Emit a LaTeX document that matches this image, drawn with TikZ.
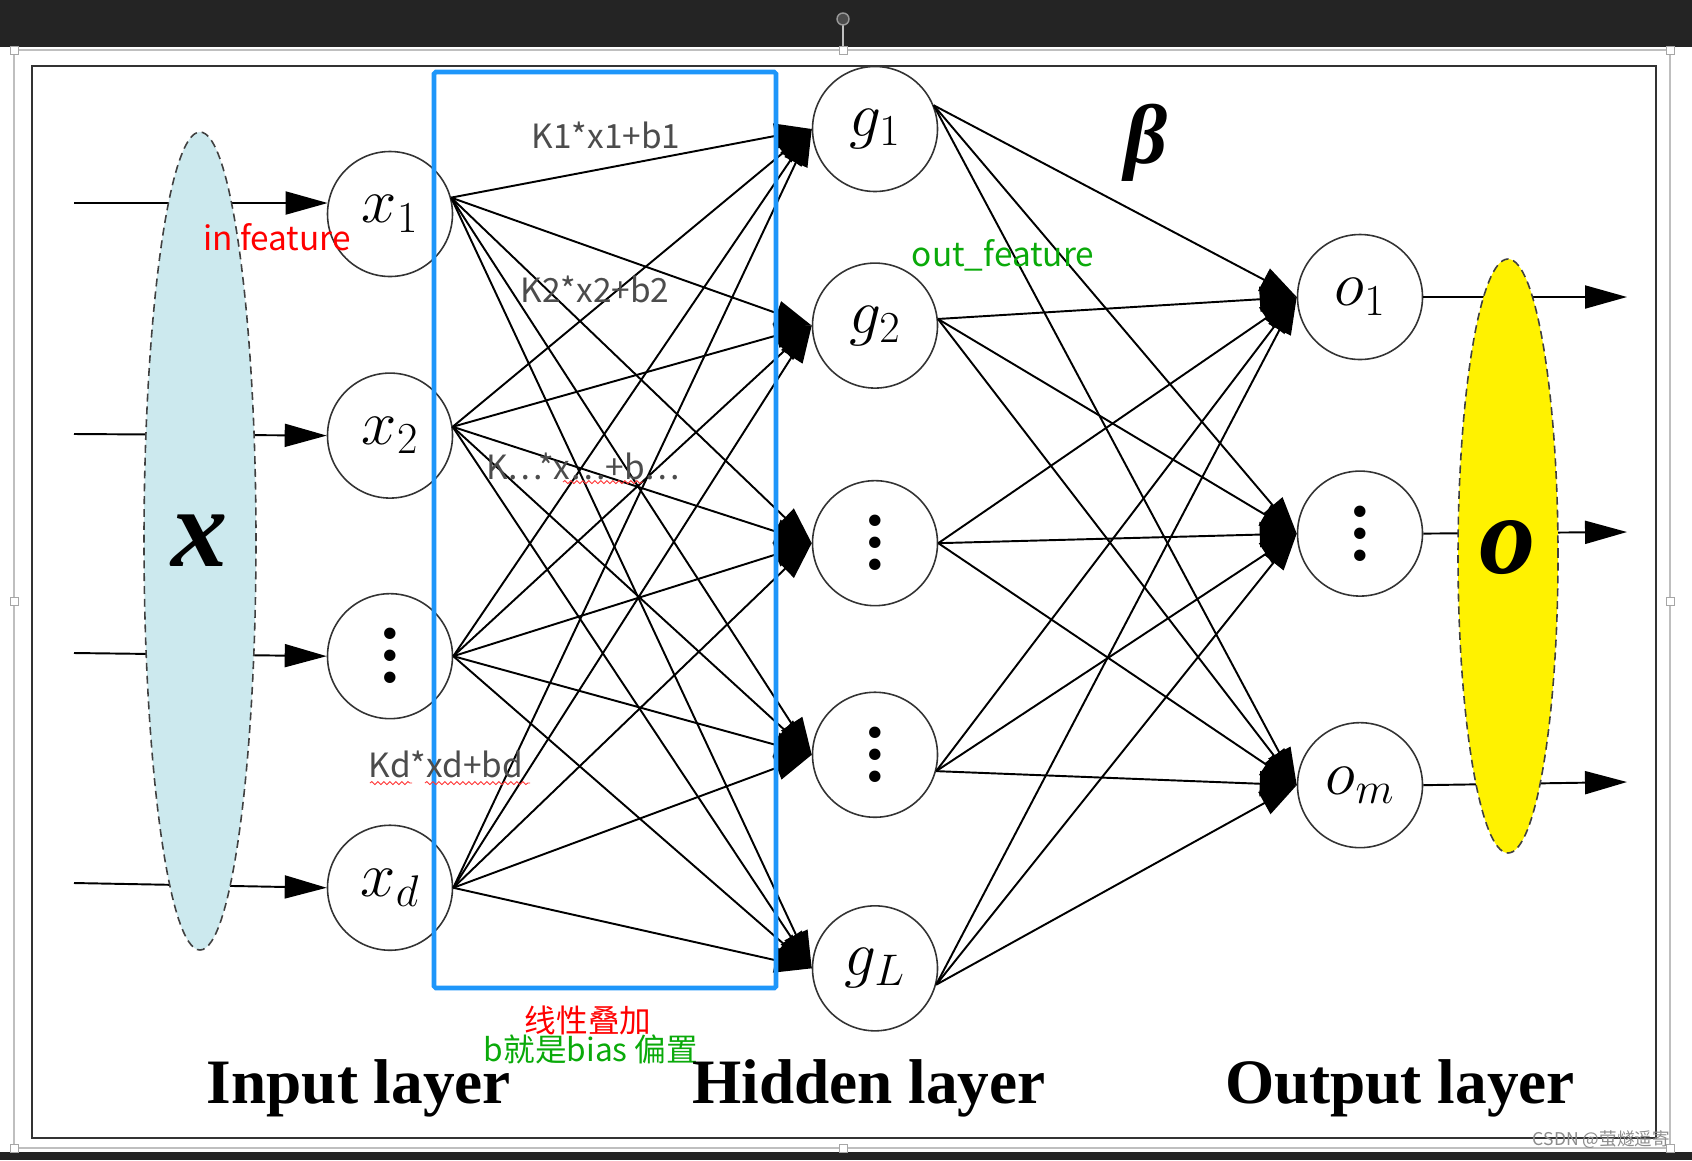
\RequirePackage{fix-cm}
\documentclass[tikz,border=0pt]{standalone}
\usepackage{fontspec}
\usepackage{amsmath}
\usepackage{tikz}
\usetikzlibrary{shapes.geometric,positioning,arrows.meta,decorations.pathmorphing}
\newfontfamily\cjk{Noto Sans CJK SC}
\newfontfamily\timesf{Liberation Serif}
\definecolor{boxblue}{RGB}{30,150,250}
\definecolor{inblue}{RGB}{204,233,238}
\definecolor{annred}{RGB}{255,0,0}
\definecolor{anngreen}{RGB}{10,170,10}
\definecolor{barbg}{RGB}{36,36,36}
\newcommand{\dotcol}{\vbox{\timesf\bfseries\fontsize{40}{40}\selectfont\baselineskip=0.44cm\lineskiplimit=-1cm\hbox{.}\hbox{.}\hbox{.}}}

\begin{document}
\begin{tikzpicture}[x=1cm, y=1cm,
  neuron/.style={circle, draw=black!80, line width=0.9pt, fill=white, minimum size=2.5cm, inner sep=0pt, font=\fontsize{36}{36}\selectfont},
  layerset/.style={ellipse, draw=black!75, dash pattern=on 4.5pt off 2.8pt, line width=0.9pt, inner sep=0pt, font=\timesf\bfseries\itshape\fontsize{64}{64}\selectfont},
  conn/.style={line width=1.1pt, -{Triangle[length=0.74cm, width=0.5cm]}},
  ioarrow/.style={line width=1.1pt, -{Triangle[length=0.84cm, width=0.46cm]}},
  formula/.style={font=\cjk\fontsize{19}{19}\selectfont, text=black!70},
  note/.style={font=\cjk\fontsize{19}{19}\selectfont},
  layertitle/.style={font=\timesf\bfseries\fontsize{36}{36}\selectfont, anchor=base},
  spell/.style={draw=red!80, line width=0.5pt, decorate, decoration={snake, amplitude=0.03cm, segment length=0.12cm}}]

\useasboundingbox (0,0) rectangle (33.84,-23.2);

% SCREEN
\fill[white] (0,0) rectangle (33.84,-23.2);
\fill[barbg] (0,0) rectangle (33.84,-0.94);
\fill[barbg] (0,-23.04) rectangle (33.84,-23.2);
\draw[black!25, line width=0.8pt] (0.28,-1.0) rectangle (33.4,-22.96);
\draw[black!25, line width=0.6pt] (16.86,-0.38) -- (16.86,-1.0);
\draw[black!40, fill=black!70, line width=0.8pt] (16.86,-0.38) circle (0.12);
\filldraw[draw=black!35, fill=white, line width=0.5pt]
  (0.2,-0.92) rectangle ++(0.16,-0.16) (16.78,-0.92) rectangle ++(0.16,-0.16) (33.32,-0.92) rectangle ++(0.16,-0.16)
  (0.2,-11.94) rectangle ++(0.16,-0.16) (33.32,-11.94) rectangle ++(0.16,-0.16)
  (0.2,-22.88) rectangle ++(0.16,-0.16) (16.78,-22.88) rectangle ++(0.16,-0.16) (33.32,-22.88) rectangle ++(0.16,-0.16);
\draw[black!80, line width=1.2pt] (0.64,-1.32) rectangle (33.12,-22.76);

% NEURONS

\node[neuron] (x1) at (7.80,-4.28) {$x_1$};
\node[neuron, below=1.9cm of x1] (x2) {$x_2$};
\node[neuron, below=1.88cm of x2] (x3) {\dotcol};
\node[neuron, below=2.1cm of x3] (xd) {$x_d$};

\node[neuron] (g1) at (17.50,-2.58) {$g_1$};
\node[neuron, below=1.4cm of g1] (g2) {$g_2$};
\node[neuron, below=1.82cm of g2] (g3) {\dotcol};
\node[neuron, below=1.7cm of g3] (g4) {\dotcol};
\node[neuron, below=1.74cm of g4] (gL) {$g_L$};

\node[neuron] (o1) at (27.2,-5.94) {$o_1$};
\node[neuron, below=2.2cm of o1] (o2) {\dotcol};
\node[neuron, below=2.5cm of o2] (om) {$o_m$};

% INPUTS AND OUTPUTS

\coordinate (in1) at (1.48,-4.06);
\coordinate (in2) at (1.48,-8.68);
\coordinate (in3) at (1.48,-13.06);
\coordinate (in4) at (1.48,-17.66);
\draw[ioarrow] (in1) -- (x1.170);
\draw[ioarrow] (in2) -- (x2.west);
\draw[ioarrow] (in3) -- (x3.west);
\draw[ioarrow] (in4) -- (xd.west);

\coordinate (out1) at (32.54,-5.94);
\coordinate (out2) at (32.54,-10.64);
\coordinate (out3) at (32.54,-15.64);
\draw[ioarrow] (o1.east) -- (out1);
\draw[ioarrow] (o2.east) -- (out2);
\draw[ioarrow] (om.east) -- (out3);

\node[layerset, fill=inblue, minimum width=2.24cm, minimum height=16.36cm] (inset) at (4.0,-10.82) {x};
\node[layerset, fill=yellow, minimum width=2.0cm, minimum height=11.88cm] (outset) at (30.16,-11.12) {\raisebox{0.35cm}{o}};

% INPUT -> HIDDEN

\draw[conn] (x1.15) -- (g1.west);
\draw[conn] (x1.15) -- (g2.west);
\draw[conn] (x1.15) -- (g3.west);
\draw[conn] (x1.15) -- (g4.west);
\draw[conn] (x1.15) -- (gL.west);

\draw[conn] (x2.8) -- (g1.west);
\draw[conn] (x2.8) -- (g2.west);
\draw[conn] (x2.8) -- (g3.west);
\draw[conn] (x2.8) -- (g4.west);
\draw[conn] (x2.8) -- (gL.west);

\draw[conn] (x3.east) -- (g1.west);
\draw[conn] (x3.east) -- (g2.west);
\draw[conn] (x3.east) -- (g3.west);
\draw[conn] (x3.east) -- (g4.west);
\draw[conn] (x3.east) -- (gL.west);

\draw[conn] (xd.east) -- (g1.west);
\draw[conn] (xd.east) -- (g2.west);
\draw[conn] (xd.east) -- (g3.west);
\draw[conn] (xd.east) -- (g4.west);
\draw[conn] (xd.east) -- (gL.west);

% HIDDEN -> OUTPUT

\draw[conn] (g1.22) -- (o1.west);
\draw[conn] (g1.22) -- (o2.west);
\draw[conn] (g1.22) -- (om.west);

\draw[conn] (g2.6) -- (o1.west);
\draw[conn] (g2.6) -- (o2.west);
\draw[conn] (g2.6) -- (om.west);

\draw[conn] (g3.east) -- (o1.west);
\draw[conn] (g3.east) -- (o2.west);
\draw[conn] (g3.east) -- (om.west);

\draw[conn] (g4.-15) -- (o1.west);
\draw[conn] (g4.-15) -- (o2.west);
\draw[conn] (g4.-15) -- (om.west);

\draw[conn] (gL.-15) -- (o1.west);
\draw[conn] (gL.-15) -- (o2.west);
\draw[conn] (gL.-15) -- (om.west);

% LINEAR PART

\draw[boxblue, line width=2.6pt, rounded corners=1pt] (8.68,-1.44) rectangle (15.52,-19.76);

\node[formula] (f1) at (12.12,-2.70) {K1*x1+b1};
\node[formula] (f2) at (11.9,-5.78) {K2*x2+b2};
\node[formula] (f3) at (11.66,-9.32) {K⋯*x⋯+b⋯};
\node[formula] (fd) at (8.92,-15.28) {Kd*xd+bd};
\draw[spell] (11.26,-9.64) -- (12.86,-9.64);
\draw[spell] (7.4,-15.66) -- (8.24,-15.66);
\draw[spell] (8.5,-15.66) -- (10.6,-15.66);

% NOTES

\node[note, text=annred] (infeat) at (5.54,-4.74) {in feature};
\node[note, text=anngreen] (outfeat) at (20.06,-5.1) {out\_feature};
\node[font=\timesf\bfseries\itshape\fontsize{48}{48}\selectfont] (beta) at (22.92,-2.86) {β};
\node[note, text=annred, font=\cjk\fontsize{18}{18}\selectfont] (linear) at (11.76,-20.4) {线性叠加};
\node[note, text=anngreen, font=\cjk\fontsize{18}{18}\selectfont] (bias) at (11.82,-20.98) {b就是bias 偏置};

\node[layertitle] (intitle) at (7.18,-22.06) {Input layer};
\node[layertitle] (hidtitle) at (17.38,-22.06) {Hidden layer};
\node[layertitle] (outtitle) at (28.0,-22.06) {Output layer};

\node[font=\cjk\fontsize{10}{10}\selectfont, text=black!45, anchor=east] (mark) at (33.52,-22.8) {CSDN @萤燧遥寄};

\end{tikzpicture}
\end{document}
